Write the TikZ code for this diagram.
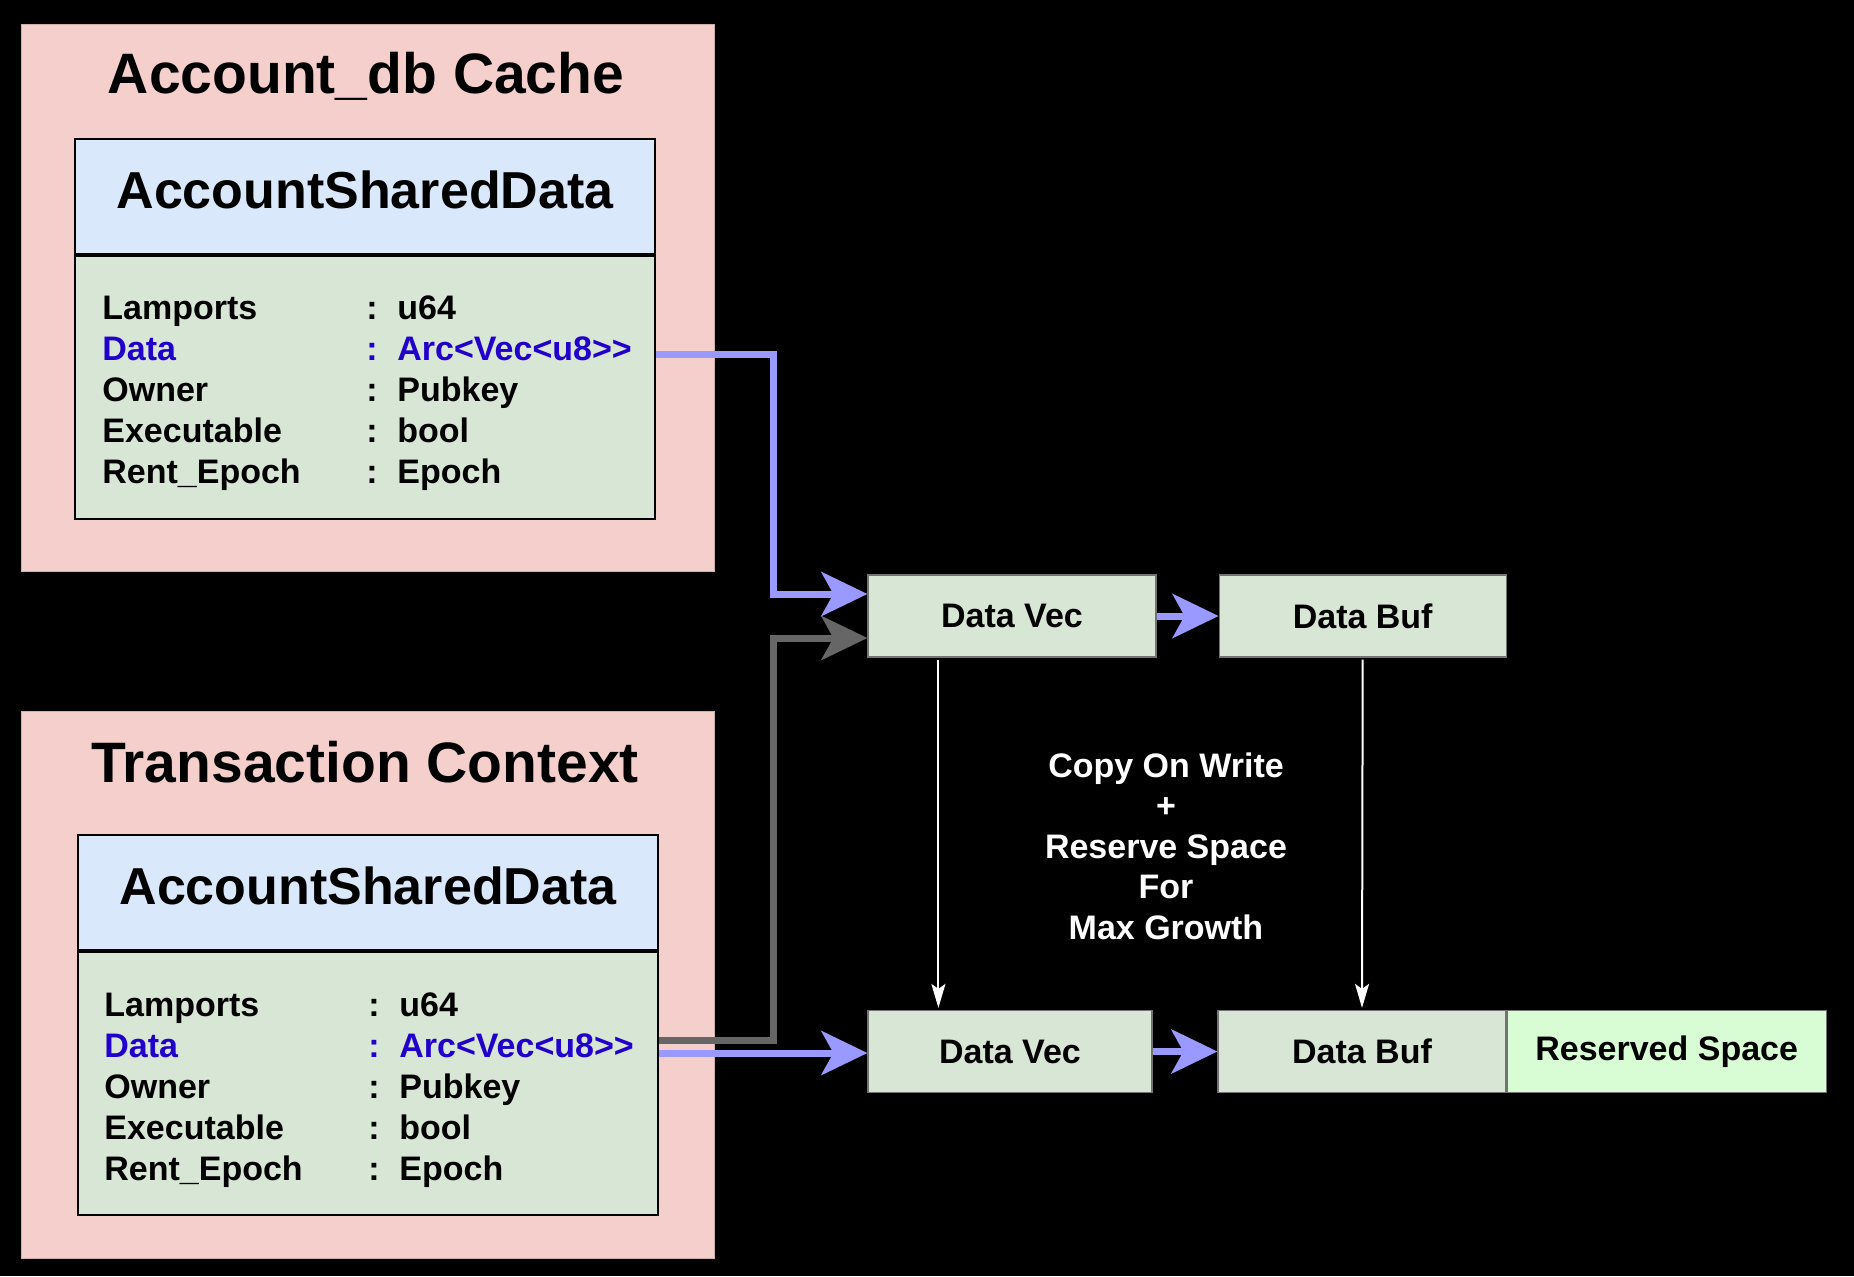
\documentclass[tikz,border=0pt]{standalone}
\usepackage{fontspec}
\setmainfont{Liberation Sans}
\usetikzlibrary{positioning, arrows.meta, calc}
\definecolor{groupPink}{HTML}{F4CFCC}
\definecolor{headBlue}{HTML}{DAE8FC}
\definecolor{bodyGreen}{HTML}{D7E6D5}
\definecolor{spareGreen}{HTML}{D8FCD3}
\definecolor{fieldBlue}{HTML}{2200CC}
\definecolor{arrowBlue}{HTML}{9999FF}
\definecolor{arrowGray}{HTML}{666666}
\tikzstyle{group}=[fill=groupPink, draw=groupPink!85!black, line width=0.4pt, anchor=north west, minimum width=346.5pt, minimum height=273.5pt, inner sep=0]
\tikzstyle{groupTitle}=[font=\fontsize{28.5}{34}\selectfont\bfseries]
\tikzstyle{structHead}=[fill=headBlue, draw=black, line width=1pt, minimum width=290pt, minimum height=57.5pt, text depth=7pt, anchor=north west, font=\fontsize{26}{30}\selectfont\bfseries]
\tikzstyle{structBody}=[fill=bodyGreen, draw=black, line width=1pt, minimum width=290pt, minimum height=131.5pt, anchor=north]
\tikzstyle{fields}=[anchor=base west, inner sep=0, font=\fontsize{17}{20.5}\selectfont\bfseries]
\tikzstyle{dataBox}=[fill=bodyGreen, draw=black!55, line width=0.6pt, minimum height=41pt, font=\fontsize{17}{20}\selectfont\bfseries]
\tikzstyle{dataArrow}=[line width=3.5pt, arrowBlue, -{Stealth[length=23pt,width=22pt,inset=6pt]}]
\tikzstyle{ptrArrow}=[dataArrow, arrowGray]
\tikzstyle{copyArrow}=[white, line width=1pt, -{Stealth[length=12pt,width=7pt,inset=2.5pt]}]
\tikzstyle{note}=[white, align=center, font=\fontsize{17}{20.25}\selectfont\bfseries]
\newcommand\fieldTable{%
  \begin{tabular}[t]{@{}p{132pt}@{}p{15.5pt}@{}l@{}}
    Lamports & : & u64\\
    \textcolor{fieldBlue}{Data} & \textcolor{fieldBlue}{:} & \textcolor{fieldBlue}{Arc<Vec<u8>{}>}\\
    Owner & : & Pubkey\\
    Executable & : & bool\\
    Rent\_Epoch & : & Epoch
  \end{tabular}}

\begin{document}
\begin{tikzpicture}[x=0.5pt, y=-0.5pt]
  \fill[black] (0,0) rectangle (1854,1276);
  % account db cache
  \node[group] (cache) at (21,24) {};
  \node[groupTitle] (cacheTitle) at (366,76) {Account\_db Cache};
  \node[structHead] (headA) at (74,138) {AccountSharedData};
  \node[structBody] (bodyA) at (headA.south) {};
  \node[fields] (fieldsA) at (102,319) {\fieldTable};
  % transaction context
  \node[group] (txn) at (21,711) {};
  \node[groupTitle] (txnTitle) at (365,762) {Transaction Context};
  \node[structHead] (headB) at (77,834) {AccountSharedData};
  \node[structBody] (bodyB) at (headB.south) {};
  \node[fields] (fieldsB) at (104,1016) {\fieldTable};
  % data buffers
  \node[dataBox, minimum width=144pt] (vecA) at (1012,616) {Data Vec};
  \node[dataBox, minimum width=143.5pt, right=31pt of vecA] (bufA) {Data Buf};
  \node[dataBox, minimum width=142pt] (vecB) at (1010,1051.5) {Data Vec};
  \node[dataBox, minimum width=144pt] (bufB) at (1362,1051.5) {Data Buf};
  \node[dataBox, fill=spareGreen, minimum width=159.5pt, right=0pt of bufB] (spare) {Reserved Space};
  \node[note] (cow) at (1166,846) {Copy On Write\\+\\Reserve Space\\For\\Max Growth};
  % connectors
  \coordinate (dataA) at ([yshift=16.75pt]bodyA.east);
  \coordinate (dataB) at ([yshift=15.25pt]bodyB.east);
  \coordinate (ptrB) at ([yshift=21.75pt]bodyB.east);
  \draw[ptrArrow] (ptrB) -- ++(57pt,0) |- ([yshift=-11pt]vecA.west);
  \draw[dataArrow] (dataA) -- ++(58.5pt,0) |- ([yshift=11pt]vecA.west);
  \draw[dataArrow] (dataB) -- (vecB.west |- dataB);
  \draw[dataArrow] (vecA) -- (bufA);
  \draw[dataArrow] (vecB) -- (bufB);
  \draw[copyArrow] ([xshift=35.5pt,yshift=-1pt]vecA.south west) -- ([xshift=35.5pt,yshift=1pt]vecB.north west);
  \draw[copyArrow] ([yshift=-1pt]bufA.south) -- ([yshift=1pt]bufB.north);
\end{tikzpicture}
\end{document}
